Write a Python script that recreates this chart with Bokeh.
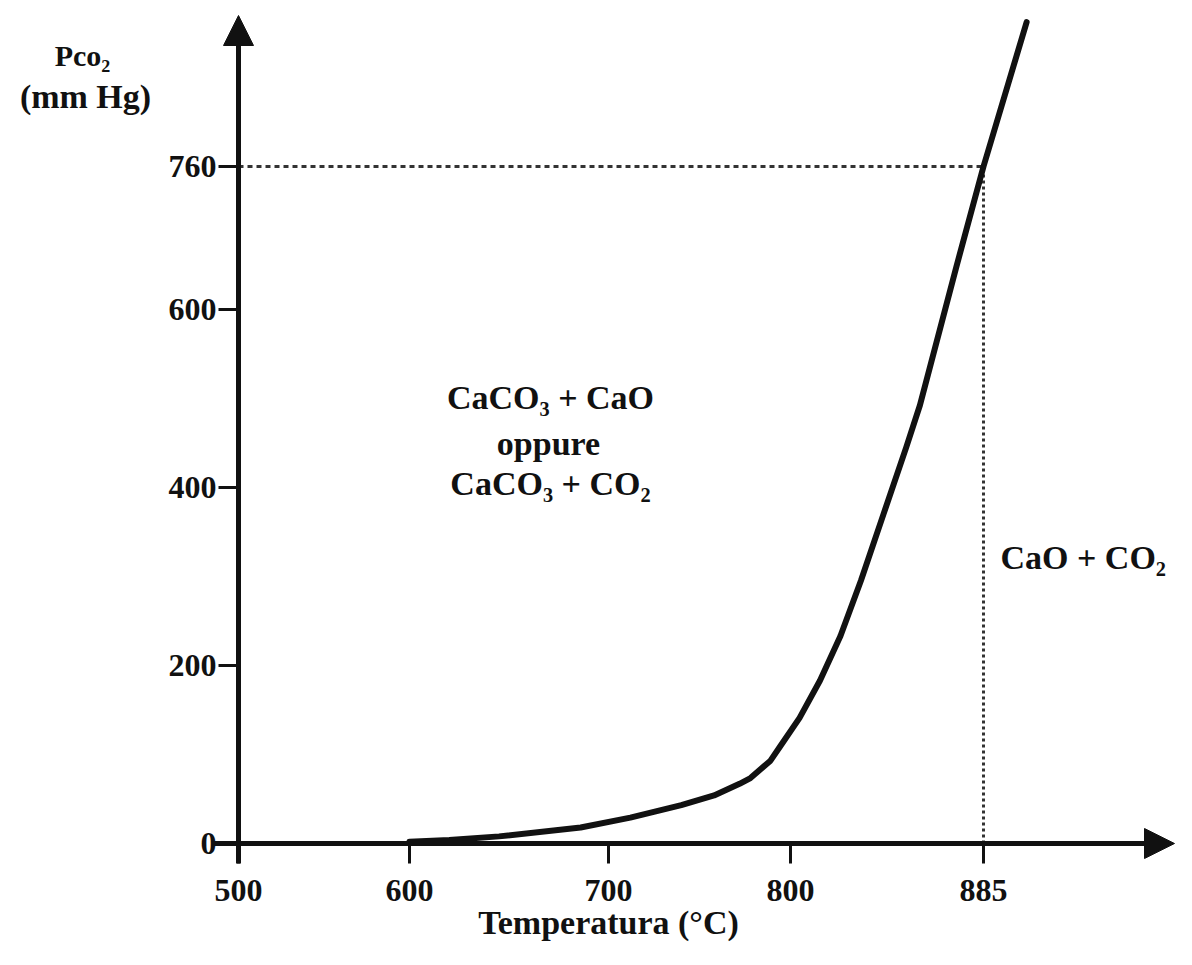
import numpy as np
from bokeh.plotting import figure
from bokeh.models import (Range1d, LinearAxis, FixedTicker, Arrow, NormalHead, Label)
from bokeh.embed import file_html
from bokeh.resources import INLINE

# ---------------- data ----------------
temperature_c = [600, 620, 645, 686, 712, 740, 758, 772, 778, 789, 794, 804, 813,
                 822, 831, 841, 851, 857, 873, 885, 904]
pressure_mmhg = [2, 4, 8, 18, 29, 43, 54, 67, 73.5, 93, 108, 141, 183,
                 233, 295, 370, 445, 492, 647, 760, 922]

x_ticks = [500, 600, 700, 800, 885]
x_tick_labels = ["500", "600", "700", "800", "885"]
y_ticks = [0, 200, 400, 600, 760]
y_tick_labels = ["0", "200", "400", "600", "760"]

decomp_temp = 885
atm_pressure = 760

# ---------------- layout (schematic, non-uniform temperature axis) ----------------
TICK_POS = [238, 409, 608, 790, 983]   # drawing positions of the x ticks
FONT = "Liberation Serif"
INK = "#111111"
W, H = 1176, 949
PX_PER_MMHG = 0.8908
Y0 = 843  # drawing row of 0 mm Hg


def warp(t):
    t = np.asarray(t, dtype=float)
    slope = (TICK_POS[-1] - TICK_POS[-2]) / (x_ticks[-1] - x_ticks[-2])
    res = np.interp(t, x_ticks, TICK_POS)
    return np.where(t > x_ticks[-1], TICK_POS[-1] + (t - x_ticks[-1]) * slope, res)


def prow(row):
    return (Y0 - row) / PX_PER_MMHG


p = figure(width=W, height=H,
           x_range=Range1d(0, W), y_range=Range1d(prow(H), prow(0)),
           output_backend="svg", toolbar_location=None,
           x_axis_type=None, y_axis_type=None,
           min_border_left=0, min_border_right=0,
           min_border_top=0, min_border_bottom=0)
p.outline_line_color = None
p.grid.visible = False
p.background_fill_color = "white"
p.border_fill_color = "white"

x_pos = [float(v) for v in warp(x_ticks)]

xaxis = LinearAxis(fixed_location=0,
                   ticker=FixedTicker(ticks=x_pos),
                   major_label_overrides={xp: lab for xp, lab in zip(x_pos, x_tick_labels)})
yaxis = LinearAxis(fixed_location=x_pos[0],
                   ticker=FixedTicker(ticks=y_ticks),
                   major_label_overrides={float(v): lab for v, lab in zip(y_ticks, y_tick_labels)})
for ax in (xaxis, yaxis):
    ax.axis_line_color = None
    ax.major_tick_line_width = 3
    ax.major_tick_line_color = INK
    ax.major_tick_out = 20
    ax.major_tick_in = 0
    ax.minor_tick_line_color = None
    ax.major_label_text_font = FONT
    ax.major_label_text_font_style = "bold"
    ax.major_label_text_font_size = "32px"
    ax.major_label_text_color = INK
xaxis.major_label_standoff = 16
yaxis.major_label_standoff = 2
p.add_layout(xaxis, "below")
p.add_layout(yaxis, "left")

# axis lines with arrow heads
p.add_layout(Arrow(end=NormalHead(size=30, fill_color=INK, line_color=INK, line_width=1),
                   x_start=212, y_start=0, x_end=W - 2, y_end=0,
                   line_width=5, line_color=INK))
p.add_layout(Arrow(end=NormalHead(size=30, fill_color=INK, line_color=INK, line_width=1),
                   x_start=x_pos[0], y_start=prow(863), x_end=x_pos[0], y_end=prow(15),
                   line_width=5, line_color=INK))

# reference lines at 760 mm Hg / 885 °C
xd = float(warp(decomp_temp))
p.line([x_pos[0], xd], [atm_pressure, atm_pressure], line_color="#333333",
       line_width=3, line_dash="5 4")
p.line([xd, xd], [0, atm_pressure], line_color="#333333",
       line_width=3, line_dash="3 3")

# equilibrium curve
p.line(warp(temperature_c), pressure_mmhg, line_color=INK, line_width=6,
       line_join="round", line_cap="round")


def add_label(x, row, text, size="34px", align="center"):
    p.add_layout(Label(x=x, y=prow(row), text=text, text_font=FONT, text_font_style="bold",
                       text_font_size=size, text_color=INK, text_align=align,
                       text_baseline="middle"))


add_label(550, 397, "CaCO₃ + CaO")
add_label(548, 443, "oppure")
add_label(550, 483, "CaCO₃ + CO₂")
add_label(1000, 557, "CaO + CO₂", align="left")
add_label(608, 922, "Temperatura (°C)")
add_label(82, 55, "Pco₂", size="30px")
add_label(85, 96, "(mm Hg)")

open("out.html", "w").write(file_html(p, INLINE))
